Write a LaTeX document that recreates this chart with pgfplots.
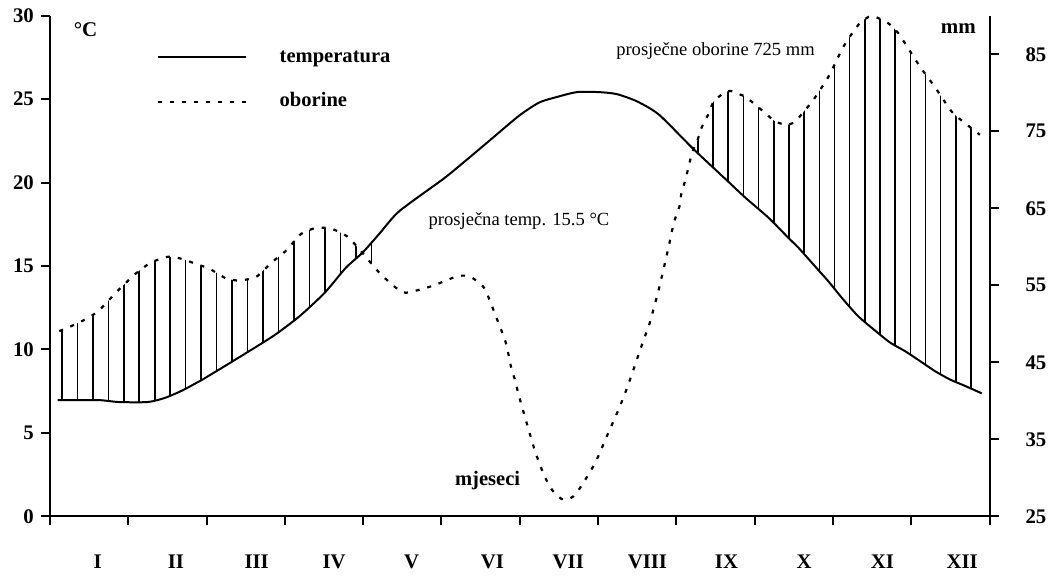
\documentclass[border=0pt]{standalone}
\usepackage{fontspec}
\setmainfont{Liberation Serif}
\usepackage{pgfplots}
\usepackage{pgfplotstable}
\pgfplotsset{compat=1.18}
\usepgfplotslibrary{fillbetween}
\usetikzlibrary{patterns.meta}

% temperature (x in months from start of year, T in deg C)
\pgfplotstableread{
x T
0.10 6.97
0.40 6.97
0.65 6.96
0.88 6.85
1.25 6.85
1.47 7.10
1.69 7.54
1.86 7.97
1.95 8.20
2.34 9.31
2.85 10.80
3.19 12.00
3.51 13.40
3.78 14.90
3.99 15.79
4.21 16.95
4.46 18.28
5.01 20.17
5.23 21.00
5.61 22.50
5.99 24.00
6.25 24.80
6.50 25.16
6.73 25.42
7.01 25.42
7.24 25.30
7.50 24.86
7.78 24.06
8.22 22.00
8.63 20.20
8.88 19.10
9.18 17.88
9.43 16.69
9.56 16.09
9.75 15.09
9.94 14.09
10.13 13.00
10.32 12.00
10.52 11.20
10.73 10.41
10.92 9.90
11.11 9.31
11.30 8.71
11.49 8.21
11.69 7.81
11.90 7.37
}\temp

% precipitation (x in months, P in mm)
\pgfplotstableread{
x P
0.119 49.05
0.370 50.14
0.608 51.56
0.841 54.03
1.083 56.40
1.284 57.91
1.500 58.69
1.670 58.47
1.861 57.79
2.039 57.14
2.252 55.88
2.422 55.62
2.635 56.10
2.826 57.91
3.017 59.51
3.208 61.67
3.400 62.45
3.591 62.36
3.795 61.36
3.973 59.42
4.207 56.62
4.419 54.68
4.547 54.03
4.873 54.88
5.205 56.18
5.367 56.10
5.545 54.68
5.694 51.00
5.822 47.55
5.886 44.52
5.949 42.36
5.991 40.59
6.186 33.76
6.316 30.22
6.424 28.28
6.555 27.15
6.684 27.59
6.794 29.06
6.966 32.00
7.118 35.54
7.269 39.03
7.387 42.13
7.584 47.98
7.648 49.70
7.775 54.45
7.903 60.07
7.967 63.10
8.040 65.25
8.065 66.99
8.116 68.71
8.200 72.17
8.264 73.67
8.320 75.41
8.404 77.13
8.477 78.86
8.604 79.94
8.690 80.24
8.795 79.81
8.881 79.50
9.008 78.43
9.136 77.35
9.263 76.26
9.411 75.84
9.518 76.26
9.646 77.78
9.751 79.08
9.943 82.09
10.134 85.98
10.334 88.92
10.494 89.96
10.707 89.01
10.835 87.72
10.920 86.42
11.111 83.39
11.303 80.72
11.515 77.56
11.685 76.06
11.876 74.54
}\prec

\begin{document}
\begin{tikzpicture}
\begin{axis}[
  scale only axis, width=470.7pt, height=250.8pt,
  xmin=0, xmax=12, ymin=0, ymax=30,
  axis x line*=bottom, axis y line*=left,
  axis line style={line width=1pt, -},
  tick align=outside, major tick length=4.5pt,
  every tick/.style={black, line width=1pt},
  xtick={0,1,...,12},
  xticklabels={},
  extra x ticks={0.61,1.61,2.64,3.63,4.62,5.65,6.62,7.63,8.64,9.63,10.63,11.65},
  extra x tick labels={I,II,III,IV,V,VI,VII,VIII,IX,X,XI,XII},
  extra x tick style={tick style={draw=none},
    xticklabel style={font=\bfseries\fontsize{10.4}{12}\selectfont, yshift=-11.4pt}},
  ytick={0,5,...,30},
  yticklabel style={font=\bfseries\fontsize{10.4}{12}\selectfont},
  /pgf/number format/assume math mode=true,
  clip=false,
  legend style={draw=none, fill=none, at={(axis cs:1.364,28.06)}, anchor=north west,
    inner sep=0pt, outer sep=0pt, row sep=13.3pt, column sep=16.5pt,
    font=\bfseries\fontsize{10.3}{12}\selectfont,
    nodes={inner sep=0pt, text height=7pt, text depth=2.2pt}},
  legend cell align=left,
  legend image code/.code={\draw[#1] (0pt,0pt) -- (44pt,0pt);},
]
\addplot[name path=T, black, line width=1pt, smooth, tension=0.4] table[x=x, y=T] {\temp};
\addlegendentry{temperatura}
\addplot[name path=P, black, line width=1.1pt, dash pattern=on 2pt off 4pt, smooth, tension=0.4]
  table[x=x, y expr={(\thisrow{P}-25)*30/65}] {\prec};
\addlegendentry{oborine}
\addplot[draw=none, forget plot, pattern={Lines[angle=90, distance=7.75pt, line width=0.8pt]}]
  fill between[of=P and T, soft clip={domain=0:4.2}];
\addplot[draw=none, forget plot, pattern={Lines[angle=90, distance=7.6pt, line width=0.8pt]}]
  fill between[of=P and T, soft clip={domain=8.15:12}];

\node[font=\bfseries\fontsize{10.5}{12}\selectfont] at (axis cs:0.456,29.14) {°C};
\node[font=\bfseries\fontsize{10.5}{12}\selectfont] at (axis cs:11.6,29.2) {mm};
\node[font=\fontsize{9.3}{11}\selectfont] at (axis cs:8.50,27.89) {prosječne oborine 725 mm};
\node[font=\fontsize{9.3}{11}\selectfont] at (axis cs:5.99,17.68) {prosječna temp. 15.5 °C};
\node[font=\bfseries\fontsize{10.3}{12}\selectfont] at (axis cs:5.59,2.15) {mjeseci};
\end{axis}
\begin{axis}[
  scale only axis, width=470.7pt, height=250.8pt,
  xmin=0, xmax=12, ymin=25, ymax=90,
  axis x line=none, axis y line*=right,
  axis line style={line width=1pt, -},
  tick align=outside, major tick length=4.5pt,
  every tick/.style={black, line width=1pt},
  ytick={25,35,...,85},
  yticklabel style={font=\bfseries\fontsize{10.4}{12}\selectfont, xshift=10pt},
  /pgf/number format/assume math mode=true,
]
\addplot[draw=none] coordinates {(0,25) (12,90)};
\end{axis}
\path (-25pt,-28.35pt) rectangle (501.5pt,258.65pt);
\end{tikzpicture}
\end{document}
